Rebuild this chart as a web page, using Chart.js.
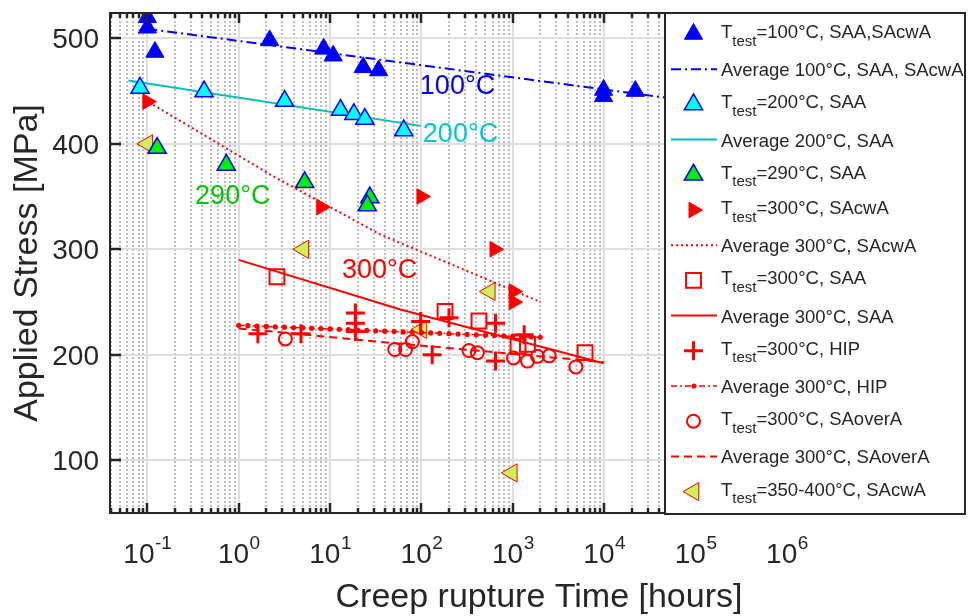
<!DOCTYPE html>
<html>
<head>
<meta charset="utf-8">
<script src="https://cdn.jsdelivr.net/npm/chart.js@4.4.1/dist/chart.umd.min.js"></script>
<style>
  html, body { margin: 0; padding: 0; background: #fff; }
  #wrap { position: relative; width: 968px; height: 616px; }
</style>
</head>
<body>
<div id="wrap"><canvas id="chart"></canvas></div>
<script>
// ---- data (time in hours, stress in MPa) ----
const t100 = [0.1, 0.1, 0.121, 2.18, 8.5, 10.8, 23, 34, 9840, 9840, 21900]
const s100 = [520, 510, 487, 498, 490, 483.5, 472.5, 469.5, 451, 445, 450]
const t100avg = [0.1, 1e5]
const s100avg = [509, 440]

const t200 = [0.083, 0.418, 3.18, 13, 18.2, 24, 64]
const s200 = [453, 449.5, 440.5, 432, 428, 423.5, 412.5]
const t200avg = [0.062, 98]
const s200avg = [460, 417]

const t290 = [0.128, 0.73, 5.27, 27.2, 25.5]
const s290 = [396, 380, 363.5, 349, 341.5]

const t300cw = [0.1, 8, 100, 630, 1020, 1020]
const s300cw = [440, 340, 350, 300, 260, 250]
const t300cwAvg = [0.116, 2.41, 35.6, 2020]
const s300cwAvg = [437, 369, 314, 250]

const t300saa = [2.62, 181, 426, 1140, 1445, 6170]
const s300saa = [274, 241, 232, 208, 210, 202]
const t300saaAvg = [1, 59, 9840]
const s300saaAvg = [290, 243, 192]

const t300hip = [1.62, 4.8, 18.9, 18.9, 18.9, 98, 200, 131, 646, 646, 1330]
const s300hip = [220, 220, 239.5, 230, 222, 231.5, 235, 200, 230, 194, 219]
const t300hipAvg = [1, 1.26, 1.58, 2, 2.51, 3.16, 3.98, 5.01, 6.31, 7.94, 10, 12.6, 15.8, 20, 25.1, 31.6, 39.8,
  50.1, 63.1, 79.4, 100, 126, 158, 200, 251, 316, 398, 501, 631, 794, 1000, 1259, 1585, 1995]
const s300hipAvg = [227.9, 227.6, 227.2, 226.9, 226.5, 226.2, 225.8, 225.5, 225.1, 224.8, 224.5, 224.1, 223.8,
  223.4, 223.1, 222.7, 222.4, 222.1, 221.7, 221.4, 221.0, 220.7, 220.3, 220.0, 219.6, 219.3, 219.0, 218.6,
  218.3, 217.9, 217.6, 217.2, 216.9, 216.5]

const t300over = [3.24, 51, 67, 79.6, 331, 409, 1017, 1446, 1862, 2496, 4900]
const s300over = [215, 205, 205, 212.5, 204, 202, 197, 194, 198.5, 199, 188.5]
const t300overAvg = [1, 51, 10000]
const s300overAvg = [225, 211, 193]

const t350 = [0.1, 5.1, 100, 560, 975]
const s350 = [400, 300, 224, 260, 88]

const xTickExp = ['-1', '0', '1', '2', '3', '4', '5', '6']
const yTicks = [100, 200, 300, 400, 500]

const notes = [
  { text: '100°C', t: 96, s: 456, color: '#0000ff' },
  { text: '200°C', t: 103.5, s: 410.5, color: '#00c8d8' },
  { text: '290°C', t: 0.333, s: 351.7, color: '#00c800' },
  { text: '300°C', t: 13.5, s: 281.8, color: '#ff0000' }
]

const FONT = '"Liberation Sans", Arial, Helvetica, sans-serif'
const INK = '#262626'
const RED = '#ff0000'
const BLUE = '#0000ff'

const pts = (xs, ys) => xs.map((x, i) => ({ x, y: ys[i] }))

function markers(label, xs, ys, style) {
  return Object.assign({
    label, data: pts(xs, ys), showLine: false, borderWidth: 1
  }, style)
}
function avgLine(label, xs, ys, style) {
  return Object.assign({
    label, data: pts(xs, ys), showLine: true, pointRadius: 0, borderWidth: 2,
    fill: false, tension: 0, isLine: true
  }, style)
}

const datasets = [
  markers('T_test=100°C, SAA,SAcwA', t100, s100,
    { pointStyle: 'triangle', pointRadius: 10.5, backgroundColor: BLUE, borderColor: BLUE }),
  avgLine('Average 100°C, SAA, SAcwA', t100avg, s100avg, { borderColor: BLUE, borderDash: [10, 4, 2, 4] }),
  markers('T_test=200°C, SAA', t200, s200,
    { pointStyle: 'triangle', pointRadius: 10.5, backgroundColor: '#00ffff', borderColor: BLUE, borderWidth: 1.5 }),
  avgLine('Average 200°C, SAA', t200avg, s200avg, { borderColor: '#00bfbf' }),
  markers('T_test=290°C, SAA', t290, s290,
    { pointStyle: 'triangle', pointRadius: 10.5, backgroundColor: '#00f000', borderColor: BLUE, borderWidth: 1.5 }),
  markers('T_test=300°C, SAcwA', t300cw, s300cw,
    { pointStyle: 'triangle', pointRotation: 90, pointRadius: 9, backgroundColor: RED, borderColor: RED }),
  avgLine('Average 300°C, SAcwA', t300cwAvg, s300cwAvg, { borderColor: RED, borderDash: [2, 3] }),
  markers('T_test=300°C, SAA', t300saa, s300saa,
    { pointStyle: 'rect', pointRadius: 10.5, backgroundColor: 'rgba(0,0,0,0)', borderColor: RED, borderWidth: 2 }),
  avgLine('Average 300°C, SAA', t300saaAvg, s300saaAvg, { borderColor: RED }),
  markers('T_test=300°C, HIP', t300hip, s300hip,
    { pointStyle: 'cross', pointRadius: 9.5, borderColor: RED, borderWidth: 3 }),
  avgLine('Average 300°C, HIP', t300hipAvg, s300hipAvg,
    { borderColor: RED, borderWidth: 1.5, borderDash: [6, 3, 2, 3], pointRadius: 2.6, pointBackgroundColor: RED, pointBorderWidth: 0 }),
  markers('T_test=300°C, SAoverA', t300over, s300over,
    { pointStyle: 'circle', pointRadius: 6.5, backgroundColor: 'rgba(0,0,0,0)', borderColor: RED, borderWidth: 2 }),
  avgLine('Average 300°C, SAoverA', t300overAvg, s300overAvg, { borderColor: RED, borderDash: [8, 5] }),
  markers('T_test=350-400°C, SAcwA', t350, s350,
    { pointStyle: 'triangle', pointRotation: -90, pointRadius: 10.5, backgroundColor: '#cdf05a', borderColor: RED })
]

function drawMarker(ctx, ds, x, y) {
  ctx.save()
  ctx.fillStyle = ds.backgroundColor || ds.borderColor
  ctx.strokeStyle = ds.borderColor
  ctx.lineWidth = ds.borderWidth
  Chart.helpers.drawPoint(ctx, {
    pointStyle: ds.pointStyle, rotation: ds.pointRotation || 0,
    radius: ds.pointRadius, borderWidth: ds.borderWidth
  }, x, y)
  ctx.restore()
}

const frame = {
  id: 'frame',
  beforeDatasetsDraw(chart) {
    const { ctx, chartArea: a, scales: { x, y } } = chart
    ctx.save()
    for (let e = -2; e <= 7; e++) {
      for (let m = 1; m <= 9; m++) {
        const v = m * Math.pow(10, e)
        if (v <= x.min || v >= x.max) continue
        const px = Math.round(x.getPixelForValue(v))
        ctx.beginPath()
        if (m === 1) { ctx.setLineDash([]); ctx.strokeStyle = '#dedede' }
        else { ctx.setLineDash([2, 2]); ctx.strokeStyle = '#bdbdbd' }
        ctx.lineWidth = 2
        ctx.moveTo(px, a.top); ctx.lineTo(px, a.bottom); ctx.stroke()
      }
    }
    ctx.setLineDash([])
    ctx.strokeStyle = '#dedede'
    yTicks.forEach(v => {
      const py = Math.round(y.getPixelForValue(v))
      ctx.beginPath(); ctx.moveTo(a.left, py); ctx.lineTo(a.right, py); ctx.stroke()
    })
    ctx.restore()
  },
  afterDraw(chart) {
    const { ctx, chartArea: a, scales: { x, y } } = chart
    ctx.save()
    ctx.strokeStyle = INK
    ctx.fillStyle = INK
    ctx.lineWidth = 2
    // box
    ctx.beginPath()
    ctx.moveTo(a.right, a.top); ctx.lineTo(a.left, a.top); ctx.lineTo(a.left, a.bottom); ctx.lineTo(a.right, a.bottom)
    ctx.stroke()
    // x ticks (inward, bottom and top)
    for (let e = -2; e <= 7; e++) {
      for (let m = 1; m <= 9; m++) {
        const v = m * Math.pow(10, e)
        if (v <= x.min || v >= x.max) continue
        const px = Math.round(x.getPixelForValue(v))
        const len = m === 1 ? 10 : 5
        ctx.lineWidth = 2.5
        ctx.beginPath()
        ctx.moveTo(px, a.bottom); ctx.lineTo(px, a.bottom - len)
        ctx.moveTo(px, a.top); ctx.lineTo(px, a.top + len)
        ctx.stroke()
      }
    }
    // y ticks
    yTicks.forEach(v => {
      const py = Math.round(y.getPixelForValue(v))
      ctx.beginPath(); ctx.moveTo(a.left, py); ctx.lineTo(a.left + 11, py); ctx.stroke()
    })
    // tick labels
    ctx.textBaseline = 'alphabetic'
    xTickExp.forEach(e => {
      const px = x.getPixelForValue(Math.pow(10, Number(e)))
      ctx.font = '28px ' + FONT
      const wb = ctx.measureText('10').width
      ctx.font = '19px ' + FONT
      const we = ctx.measureText(e).width
      const x0 = px - (wb + we) / 2
      ctx.textAlign = 'left'
      ctx.font = '28px ' + FONT
      ctx.fillText('10', x0, 563)
      ctx.font = '19px ' + FONT
      ctx.fillText(e, x0 + wb + 0.5, 549)
    })
    ctx.font = '28px ' + FONT
    ctx.textAlign = 'right'
    yTicks.forEach(v => ctx.fillText(String(v), 99, y.getPixelForValue(v) + 10))
    // axis titles
    ctx.font = '34px ' + FONT
    ctx.textAlign = 'center'
    ctx.fillText('Creep rupture Time [hours]', 539, 607)
    ctx.save()
    ctx.translate(37, 263)
    ctx.rotate(-Math.PI / 2)
    ctx.fillText('Applied Stress [MPa]', 0, 0)
    ctx.restore()
    // temperature notes
    ctx.font = '27px ' + FONT
    ctx.textAlign = 'left'
    notes.forEach(n => {
      ctx.fillStyle = n.color
      ctx.fillText(n.text, x.getPixelForValue(n.t), y.getPixelForValue(n.s) + 9.7)
    })
    // legend box
    const L = { left: 665, top: 13, right: 965, bottom: 514 }
    ctx.fillStyle = '#ffffff'
    ctx.fillRect(L.left, L.top, L.right - L.left, L.bottom - L.top)
    ctx.strokeStyle = INK
    ctx.lineWidth = 2
    ctx.strokeRect(L.left, L.top, L.right - L.left, L.bottom - L.top)
    chart.data.datasets.forEach((ds, i) => {
      const cy = 34 + i * 35.2
      const tx = 721
      if (ds.isLine) {
        ctx.save()
        ctx.strokeStyle = ds.borderColor
        ctx.lineWidth = ds.borderWidth
        ctx.setLineDash(ds.borderDash || [])
        ctx.beginPath(); ctx.moveTo(671, cy); ctx.lineTo(717, cy); ctx.stroke()
        if (ds.pointRadius > 0) {
          ctx.fillStyle = ds.borderColor
          ctx.beginPath(); ctx.arc(694, cy, ds.pointRadius, 0, Math.PI * 2); ctx.fill()
        }
        ctx.restore()
        ctx.fillStyle = INK
        ctx.font = '18.5px ' + FONT
        ctx.fillText(ds.label, tx, cy + 7)
      } else {
        drawMarker(ctx, ds, 693.5, cy)
        const parts = ds.label.split('_test')
        ctx.fillStyle = INK
        ctx.font = '18.5px ' + FONT
        ctx.fillText(parts[0], tx, cy + 4)
        let w = ctx.measureText(parts[0]).width
        ctx.font = '15px ' + FONT
        ctx.fillText('test', tx + w, cy + 11.5)
        w += ctx.measureText('test').width
        ctx.font = '18.5px ' + FONT
        ctx.fillText(parts[1], tx + w, cy + 4)
      }
    })
    ctx.restore()
  }
}

new Chart(document.getElementById('chart'), {
  type: 'scatter',
  data: { datasets },
  options: {
    responsive: true,
    maintainAspectRatio: false,
    animation: false,
    events: [],
    layout: { padding: { left: 110, top: 13, right: 108, bottom: 103 } },
    scales: {
      x: {
        type: 'logarithmic', min: 0.039, max: 6.3e6,
        ticks: { display: false }, grid: { display: false, drawTicks: false }, border: { display: false }
      },
      y: {
        type: 'linear', min: 50, max: 524,
        ticks: { display: false }, grid: { display: false, drawTicks: false }, border: { display: false }
      }
    },
    plugins: { legend: { display: false }, tooltip: { enabled: false } }
  },
  plugins: [frame]
})
</script>
</body>
</html>
